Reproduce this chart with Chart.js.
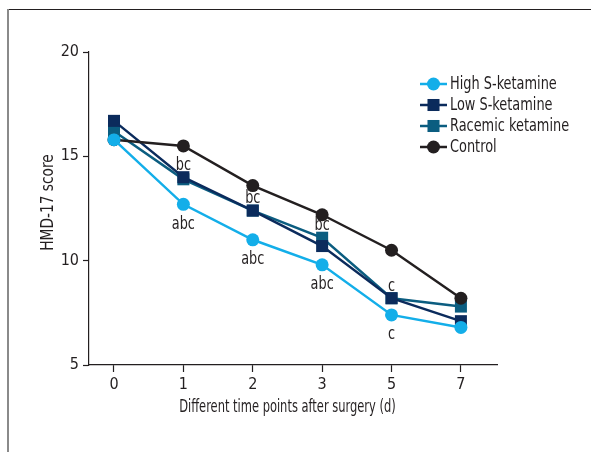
<!DOCTYPE html>
<html>
<head>
<meta charset="utf-8">
<script src="https://cdn.jsdelivr.net/npm/chart.js@4.4.0/dist/chart.umd.min.js"></script>
<style>
  html, body { margin: 0; padding: 0; background: #fff; }
  #wrap { position: relative; width: 591px; height: 452px; overflow: hidden; }
  #frameTop { position: absolute; left: 7px; right: 0; top: 9px; height: 1px; background: #231f20; }
  #frameLeft { position: absolute; left: 7px; top: 9px; bottom: 0; width: 2px; background: #8a8a8a; }
  canvas { position: absolute; left: 0; top: 0; }
</style>
</head>
<body>
<div id="wrap">
  <div id="frameTop"></div>
  <div id="frameLeft"></div>
  <canvas id="grafic" width="591" height="452"></canvas>
</div>
<script>
// time points (days after surgery)
const days = ['0', '1', '2', '3', '5', '7'];

// HMD-17 scores
const highS   = [15.8, 12.7, 11.0, 9.8, 7.4, 6.8];
const lowS    = [16.7, 14.0, 12.4, 10.7, 8.2, 7.1];
const racemic = [16.2, 13.9, 12.4, 11.1, 8.2, 7.8];
const control = [15.8, 15.5, 13.6, 12.2, 10.5, 8.2];

const yTicks = [5, 10, 15, 20];

// significance letters
const lettersAbove = ['', 'bc', 'bc', 'bc', 'c', ''];   // over the low / racemic points
const lettersBelow = ['', 'abc', 'abc', 'abc', 'c', '']; // under the high S-ketamine points

const xTitle = 'Different time points after surgery (d)';
const yTitle = 'HMD-17 score';

const FONT = "'Liberation Sans Narrow', 'DejaVu Sans Condensed', sans-serif";
const INK = '#231f20';

Chart.defaults.font.family = FONT;
Chart.defaults.color = INK;

function toPoints(arr) {
  return arr.map((v, i) => ({ x: i, y: v }));
}

// the original uses a condensed face, squeeze the text a bit
function narrowText(ctx, text, x, y, sx, rot) {
  ctx.save();
  ctx.translate(x, y);
  if (rot) ctx.rotate(rot);
  ctx.scale(sx || 0.84, 1);
  ctx.fillText(text, 0, 0);
  ctx.restore();
}

const letterPlugin = {
  id: 'letters',
  afterDatasetsDraw(chart) {
    const ctx = chart.ctx;
    const xs = chart.scales.x, ys = chart.scales.y;
    ctx.save();
    ctx.font = '17px ' + FONT;
    ctx.fillStyle = INK;
    ctx.textAlign = 'center';
    ctx.textBaseline = 'middle';
    days.forEach((d, i) => {
      const x = xs.getPixelForValue(i);
      if (lettersAbove[i]) {
        const top = Math.min(ys.getPixelForValue(lowS[i]), ys.getPixelForValue(racemic[i]));
        narrowText(ctx, lettersAbove[i], x, top - 12);
      }
      if (lettersBelow[i]) {
        narrowText(ctx, lettersBelow[i], x, ys.getPixelForValue(highS[i]) + 20);
      }
    });
    ctx.restore();
  }
};

const axisTitles = {
  id: 'axisTitles',
  afterDraw(chart) {
    const ctx = chart.ctx;
    const xs = chart.scales.x, ys = chart.scales.y;
    ctx.save();
    ctx.font = '17px ' + FONT;
    ctx.fillStyle = INK;
    ctx.textAlign = 'center';
    ctx.textBaseline = 'middle';
    const xMid = (xs.getPixelForValue(0) + xs.getPixelForValue(days.length - 1)) / 2;
    narrowText(ctx, xTitle, xMid, xs.bottom - 44, 0.75);
    narrowText(ctx, yTitle, ys.left + 49, (ys.top + ys.bottom) / 2 - 6, 0.9, -Math.PI / 2);
    ctx.restore();
  }
};

// legend with a line + marker for each series
const lineLegend = {
  id: 'lineLegend',
  afterDraw(chart) {
    const ctx = chart.ctx;
    ctx.save();
    ctx.font = '17.5px ' + FONT;
    ctx.textAlign = 'left';
    ctx.textBaseline = 'middle';
    chart.data.datasets.forEach((ds, i) => {
      const y = 84 + i * 21;
      ctx.strokeStyle = ds.borderColor;
      ctx.lineWidth = ds.borderWidth;
      ctx.beginPath();
      ctx.moveTo(420, y);
      ctx.lineTo(447, y);
      ctx.stroke();
      ctx.fillStyle = ds.pointBackgroundColor;
      if (ds.pointStyle === 'rect') {
        const h = ds.pointRadius * Math.SQRT1_2;
        ctx.fillRect(433.5 - h, y - h, 2 * h, 2 * h);
      } else {
        ctx.beginPath();
        ctx.arc(433.5, y, ds.pointRadius, 0, Math.PI * 2);
        ctx.fill();
      }
      ctx.fillStyle = INK;
      narrowText(ctx, ds.label, 450, y, 0.82);
    });
    ctx.restore();
  }
};

function series(label, values, color, style, order) {
  return {
    label: label,
    data: toPoints(values),
    borderColor: color,
    backgroundColor: color,
    pointBackgroundColor: color,
    pointBorderColor: color,
    pointBorderWidth: 0,
    pointStyle: style,
    pointRadius: style === 'rect' ? 8.5 : 6.5,
    borderWidth: 2.5,
    order: order
  };
}

var ctx = document.getElementById('grafic').getContext('2d');
var myChart = new Chart(ctx, {
  type: 'line',
  data: {
    datasets: [
      series('High S-ketamine', highS, '#13aee9', 'circle', 0),
      series('Low S-ketamine', lowS, '#0b2b5c', 'rect', 2),
      series('Racemic ketamine', racemic, '#0b5d80', 'rect', 3),
      series('Control', control, INK, 'circle', 1)
    ]
  },
  options: {
    responsive: false,
    animation: false,
    devicePixelRatio: 1,
    layout: { padding: { left: 0, top: 52, right: 94, bottom: 0 } },
    plugins: {
      legend: { display: false },
      tooltip: { enabled: false }
    },
    scales: {
      x: {
        type: 'linear',
        min: -0.36,
        max: 5.52,
        afterFit: s => { s.height = 87; },
        afterBuildTicks: s => { s.ticks = days.map((d, i) => ({ value: i })); },
        ticks: {
          padding: 3,
          font: { size: 16 },
          color: INK,
          callback: v => days[v] !== undefined ? days[v] : ''
        },
        grid: { drawOnChartArea: false, tickLength: 7, tickColor: INK, tickWidth: 1.2 },
        border: { display: true, color: INK, width: 1.2 }
      },
      y: {
        min: 5,
        max: 20,
        afterFit: s => { s.width = 89; },
        afterBuildTicks: s => { s.ticks = yTicks.map(v => ({ value: v })); },
        ticks: { padding: 4, font: { size: 16 }, color: INK },
        grid: { drawOnChartArea: false, tickLength: 6, tickColor: INK, tickWidth: 1.2 },
        border: { display: true, color: INK, width: 1.2 }
      }
    }
  },
  plugins: [letterPlugin, axisTitles, lineLegend]
});
</script>
</body>
</html>
